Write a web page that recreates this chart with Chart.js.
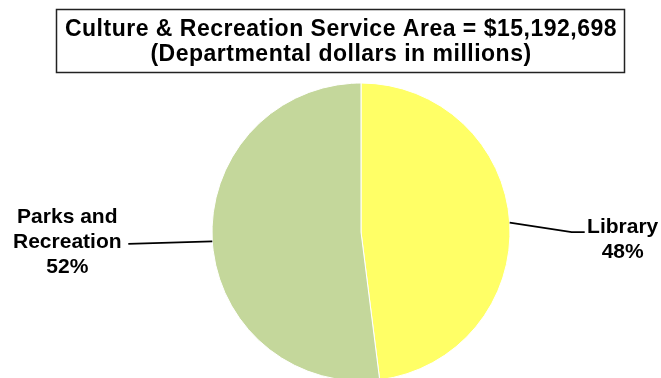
<!DOCTYPE html>
<html>
<head>
<meta charset="utf-8">
<script src="https://cdn.jsdelivr.net/npm/chart.js@4"></script>
<style>
  html, body { margin: 0; padding: 0; background: #fff; }
  #wrap { position: relative; width: 661px; height: 378px; }
</style>
</head>
<body>
<div id="wrap"><canvas id="pie"></canvas></div>
<script>
const TITLE_LINES = [
  "Culture & Recreation Service Area = $15,192,698",
  "(Departmental dollars in millions)",
];
const CATEGORIES = ["Library", "Parks and Recreation"];
const SHARES = [48, 52];
const LABEL_LINES = [
  ["Library", "48%"],
  ["Parks and", "Recreation", "52%"],
];
const COLORS = ["#ffff66", "#c4d79b"];

const FONT = "bold 21px 'Liberation Sans', Arial, sans-serif";
const TITLE_FONT = "bold 23px 'Liberation Sans', Arial, sans-serif";

// Kreslí rámček s nadpisom hore nad koláčom.
const titleBoxPlugin = {
  id: "titleBox",
  afterDraw(chart) {
    const { ctx } = chart;
    ctx.save();
    ctx.strokeStyle = "#222";
    ctx.lineWidth = 1.5;
    ctx.strokeRect(56.5, 9.5, 568, 63);
    ctx.fillStyle = "#000";
    ctx.font = TITLE_FONT;
    ctx.letterSpacing = "0.5px";
    ctx.textAlign = "center";
    ctx.textBaseline = "alphabetic";
    ctx.fillText(TITLE_LINES[0], 341, 36);
    ctx.fillText(TITLE_LINES[1], 341, 61);
    ctx.restore();
  },
};

// Vodiace čiary od stredu výseku k popisom.
const leaderLabelsPlugin = {
  id: "leaderLabels",
  afterDatasetsDraw(chart) {
    const { ctx } = chart;
    const arcs = chart.getDatasetMeta(0).data;
    ctx.save();
    ctx.strokeStyle = "#000";
    ctx.lineWidth = 1.8;
    ctx.fillStyle = "#000";
    ctx.font = FONT;
    ctx.textAlign = "center";
    ctx.textBaseline = "alphabetic";

    arcs.forEach((arc, i) => {
      const { x, y, startAngle, endAngle, outerRadius } =
        arc.getProps(["x", "y", "startAngle", "endAngle", "outerRadius"], true);
      const mid = (startAngle + endAngle) / 2;
      const ax = x + Math.cos(mid) * outerRadius;
      const ay = y + Math.sin(mid) * outerRadius;
      const lines = LABEL_LINES[i];

      ctx.beginPath();
      ctx.moveTo(ax, ay);
      if (Math.cos(mid) >= 0) {
        // pravá strana
        ctx.lineTo(ax + 62, ay + 9.5);
        ctx.lineTo(ax + 75, ay + 9.5);
        ctx.stroke();
        lines.forEach((t, k) => ctx.fillText(t, ax + 113, ay + 10.5 + k * 25));
      } else {
        // ľavá strana
        ctx.lineTo(ax - 84, ay + 2.5);
        ctx.stroke();
        lines.forEach((t, k) => ctx.fillText(t, ax - 145, ay - 18 + k * 25));
      }
    });
    ctx.restore();
  },
};

new Chart(document.getElementById("pie"), {
  type: "pie",
  data: {
    labels: CATEGORIES,
    datasets: [
      {
        data: SHARES,
        backgroundColor: COLORS,
        borderColor: "#ffffff",
        borderWidth: 1,
        hoverOffset: 0,
      },
    ],
  },
  options: {
    responsive: true,
    maintainAspectRatio: false,
    animation: false,
    radius: 149,
    layout: { padding: { left: 212, right: 151, top: 86, bottom: 0 } },
    plugins: {
      legend: { display: false },
      tooltip: { enabled: false },
      title: { display: false },
    },
  },
  plugins: [titleBoxPlugin, leaderLabelsPlugin],
});
</script>
</body>
</html>
